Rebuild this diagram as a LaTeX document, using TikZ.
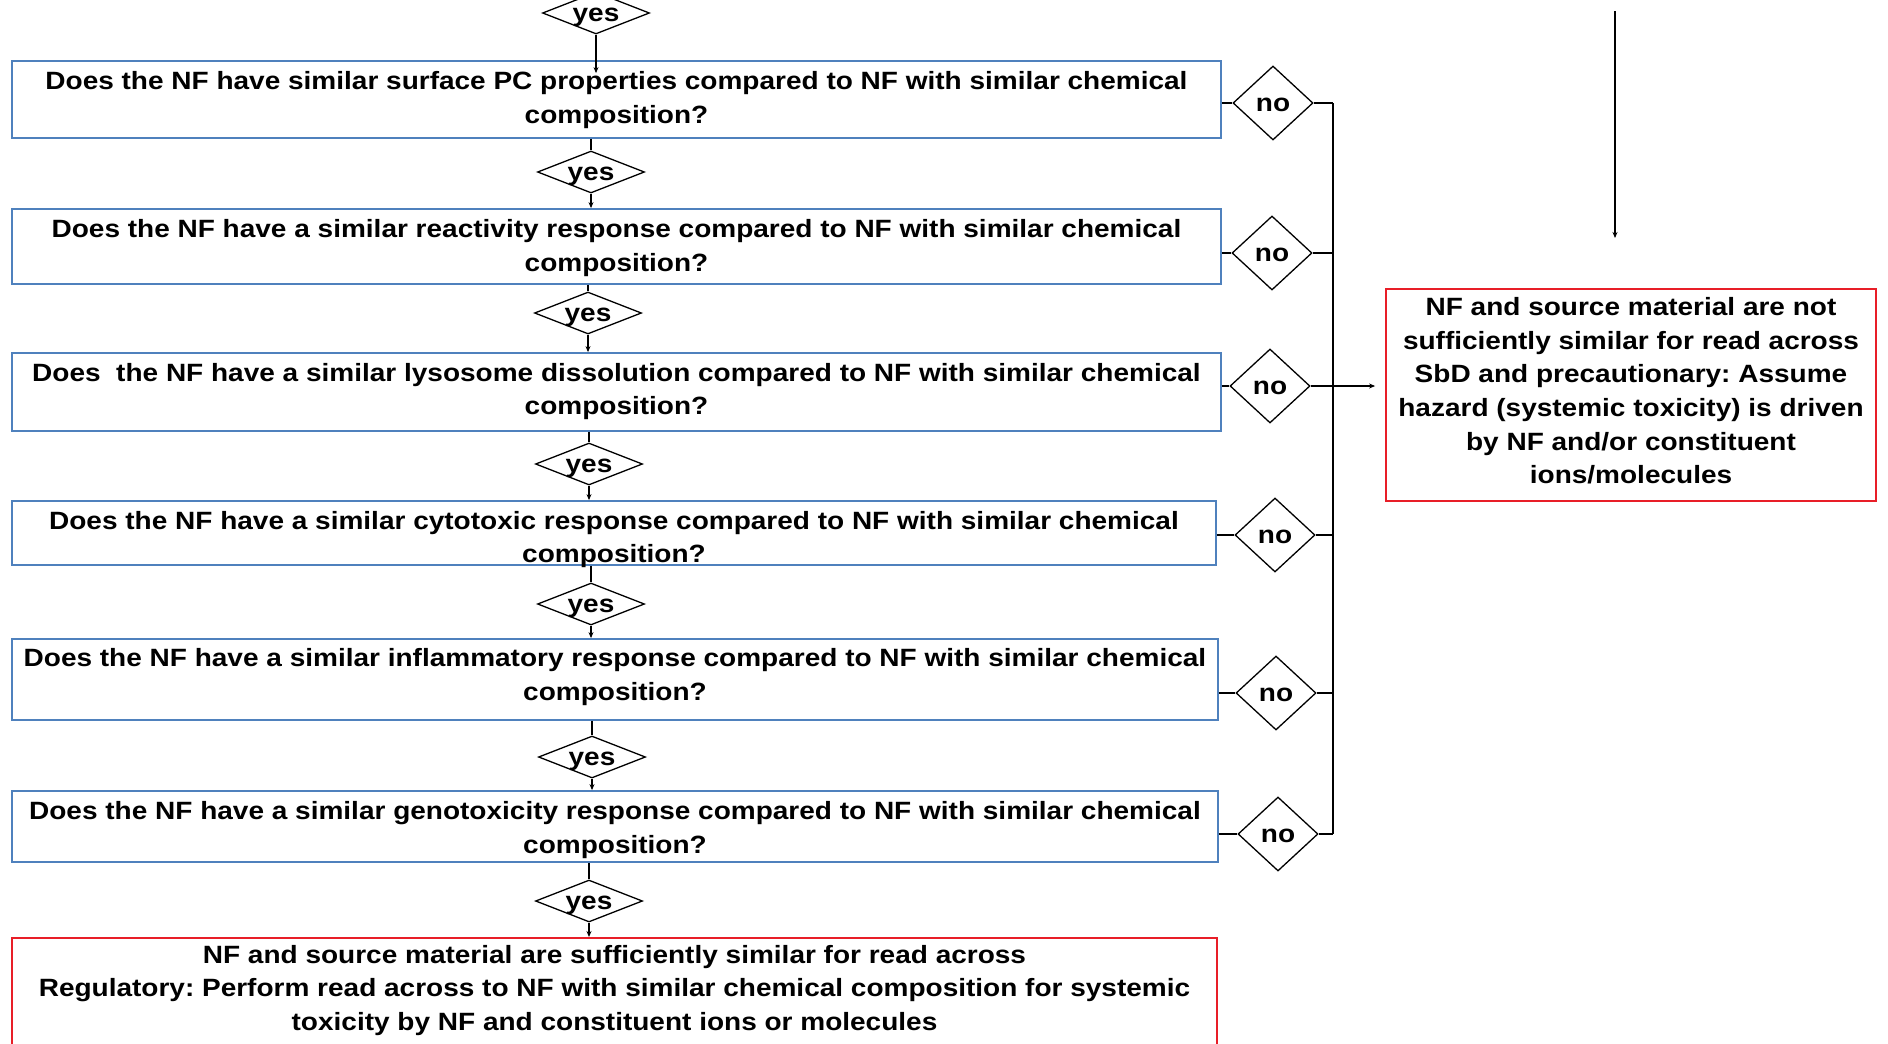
\documentclass[tikz,border=0pt]{standalone}
\usepackage{fontspec}
\setmainfont{Liberation Sans}[FakeStretch=1.12]
\usetikzlibrary{arrows.meta,shapes.geometric}
\definecolor{qblue}{RGB}{79,129,189}
\definecolor{endred}{RGB}{232,30,40}
% centred word of zero size, its x-height middle a little below the node centre
\newcommand{\diaword}[1]{\makebox[0pt]{\raisebox{\dimexpr-0.5ex-2pt\relax}[0pt][0pt]{#1}}}

\begin{document}
\frenchspacing
\begin{tikzpicture}[x=1pt,y=-1pt,
  every node/.style={font=\fontsize{25}{33.7}\selectfont\bfseries},
  qbox/.style={draw=qblue,line width=1.8pt,inner sep=0pt},
  redbox/.style={draw=endred,line width=1.8pt,inner sep=0pt},
  boxtext/.style={align=center,inner sep=0pt},
  yesdia/.style={diamond,draw,line width=1.3pt,inner sep=0pt,
    minimum width=107pt,minimum height=42pt},
  nodia/.style={diamond,draw,line width=1.3pt,inner sep=0pt,
    minimum width=80pt,minimum height=74pt},
  link/.style={line width=1.3pt},
  arr/.style={line width=1.3pt,-{Stealth[length=6pt,width=5pt]}}
]
\useasboundingbox (0,0) rectangle (1888,1044);
\clip (0,0) rectangle (1888,1044);

% question boxes
\node[qbox,minimum width=1209pt,minimum height=77pt] (q1) at (616.5,99.5) {};
\node[qbox,minimum width=1209pt,minimum height=75pt] (q2) at (616.5,246.5) {};
\node[qbox,minimum width=1209pt,minimum height=78pt] (q3) at (616.5,392) {};
\node[qbox,minimum width=1204pt,minimum height=64pt] (q4) at (614,533) {};
\node[qbox,minimum width=1206pt,minimum height=81pt] (q5) at (615,679.5) {};
\node[qbox,minimum width=1206pt,minimum height=71pt] (q6) at (615,826.5) {};

% question texts
\node[boxtext] (q1t) at (616.5,100.1)
  {Does the NF have similar surface PC properties compared to NF with similar chemical\\composition?};
\node[boxtext] (q2t) at (616.5,248.2)
  {Does the NF have a similar reactivity response compared to NF with similar chemical\\composition?};
\node[boxtext] (q3t) at (616.5,391.5)
  {Does~ the NF have a similar lysosome dissolution compared to NF with similar chemical\\composition?};
\node[boxtext] (q4t) at (614,539.6)
  {Does the NF have a similar cytotoxic response compared to NF with similar chemical\\composition?};
\node[boxtext] (q5t) at (615,676.9)
  {Does the NF have a similar inflammatory response compared to NF with similar chemical\\composition?};
\node[boxtext] (q6t) at (615,829.8)
  {Does the NF have a similar genotoxicity response compared to NF with similar chemical\\composition?};

% outcome boxes
\node[redbox,minimum width=1205pt,minimum height=140pt,anchor=north] (final) at (614.5,937) {};
\node[boxtext] (finalt) at (614.5,990.4)
  {NF and source material are sufficiently similar for read across\\
   Regulatory: Perform read across to NF with similar chemical composition for systemic\\
   toxicity by NF and constituent ions or molecules};
\node[redbox,minimum width=490pt,minimum height=212pt] (fail) at (1631,395) {};
\node[boxtext] (failt) at (1631,390.8)
  {NF and source material are not\\sufficiently similar for read across\\SbD and precautionary: Assume\\hazard (systemic toxicity) is driven\\by NF and/or constituent\\ions/molecules};

% yes decisions
\node[yesdia] (y0) at (596,13) {\diaword{yes}};
\node[yesdia] (y1) at (591,172) {\diaword{yes}};
\node[yesdia] (y2) at (588,313) {\diaword{yes}};
\node[yesdia] (y3) at (589,464) {\diaword{yes}};
\node[yesdia] (y4) at (591,604) {\diaword{yes}};
\node[yesdia] (y5) at (592,757) {\diaword{yes}};
\node[yesdia] (y6) at (589,901) {\diaword{yes}};

% no decisions
\node[nodia] (n1) at (1273,103) {\diaword{no}};
\node[nodia] (n2) at (1272,253) {\diaword{no}};
\node[nodia] (n3) at (1270,386) {\diaword{no}};
\node[nodia] (n4) at (1275,535) {\diaword{no}};
\node[nodia] (n5) at (1276,693) {\diaword{no}};
\node[nodia] (n6) at (1278,834) {\diaword{no}};

% collector line and free arrow above the failure box
\coordinate (bus) at (1333,0);
\coordinate (ftop) at (1615,11);
\coordinate (ftip) at (1615,238);

% yes chain
\draw[arr] (y0.south) -- ([yshift=-13pt]y0.south |- q1.north);
\foreach \a/\y/\b in {q1/y1/q2, q2/y2/q3, q3/y3/q4, q4/y4/q5, q5/y5/q6, q6/y6/final}{
  \draw[link] (\y.north |- \a.south) -- (\y.north);
  \draw[arr] (\y.south) -- (\y.south |- \b.north);
}

% no branches
\foreach \q/\n in {q1/n1, q2/n2, q3/n3, q4/n4, q5/n5, q6/n6}{
  \draw[link] (\n.west -| \q.east) -- (\n.west);
  \draw[link] (\n.east) -- (\n.east -| bus);
}
\draw[link] (n1.east -| bus) -- (n6.east -| bus);
\draw[arr,shorten >=10pt] (n3.east) -- (n3.east -| fail.west);
\draw[arr] (ftop) -- (ftip);
\end{tikzpicture}
\end{document}
